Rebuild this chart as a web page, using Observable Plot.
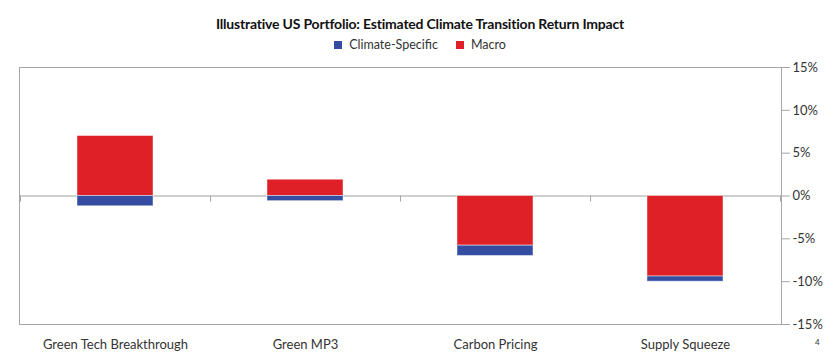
<!DOCTYPE html>
<html><head><meta charset="utf-8">
<script src="https://cdn.jsdelivr.net/npm/d3@7"></script>
<script src="https://cdn.jsdelivr.net/npm/@observablehq/plot@0.6"></script>
<style>
body{margin:0;background:#fff;font-family:Lato,sans-serif;}
#wrap{position:relative;width:840px;height:363px;overflow:hidden;}
#title{position:absolute;top:15px;left:0;width:840px;text-align:center;font-weight:bold;font-size:14px;color:#111;letter-spacing:-0.2px;white-space:nowrap;}
#legend{position:absolute;top:37px;left:0;width:840px;display:flex;justify-content:center;align-items:center;font-size:12.5px;color:#333;}
.item{display:flex;align-items:center;margin:0 9px;}
.sw{width:8px;height:8px;margin-right:7px;}
#chart{position:absolute;top:56px;left:0;}
#page{position:absolute;left:815px;top:337px;font-size:8px;color:#333;}
</style></head>
<body>
<div id="wrap">
  <div id="title">Illustrative US Portfolio: Estimated Climate Transition Return Impact</div>
  <div id="legend"></div>
  <div id="chart"></div>
  <div id="page">4</div>
</div>
<script>
const categories = ["Green Tech Breakthrough", "Green MP3", "Carbon Pricing", "Supply Squeeze"];
const macro = [7.0, 1.9, -5.8, -9.4];
const climateSpecific = [-1.2, -0.6, -1.2, -0.6];
const seriesNames = ["Climate-Specific", "Macro"];
const seriesColors = ["#344DA0", "#DF2027"];
const yTicks = [-15, -10, -5, 0, 5, 10, 15];

// Macro first so it stacks nearest zero
const rows = [];
categories.forEach((c, i) => rows.push({category: c, series: "Macro", value: macro[i]}));
categories.forEach((c, i) => rows.push({category: c, series: "Climate-Specific", value: climateSpecific[i]}));

const legend = document.getElementById("legend");
seriesNames.forEach((s, i) => {
  const it = document.createElement("div");
  it.className = "item";
  it.innerHTML = `<span class="sw" style="background:${seriesColors[i]}"></span><span>${s}</span>`;
  legend.appendChild(it);
});

const chart = Plot.plot({
  width: 840, height: 307,
  marginTop: 11, marginBottom: 39, marginLeft: 19, marginRight: 59,
  style: {fontFamily: "Lato, sans-serif", fontSize: "13px", color: "#333", background: "white"},
  x: {domain: categories, paddingInner: 0.6, paddingOuter: 0.3, label: null},
  y: {domain: [-15, 15], label: null},
  color: {domain: seriesNames, range: seriesColors},
  marks: [
    Plot.ruleY([0], {stroke: "#a0a0a0"}),
    Plot.barY(rows, {x: "category", y: "value", fill: "series", stroke: "white", strokeOpacity: 0.45, strokeWidth: 1}),
    Plot.frame({stroke: "#a6a6a6"}),
    Plot.axisY({anchor: "right", ticks: yTicks, tickFormat: d => d + "%", tickSize: 8, tickPadding: 3, stroke: "#a6a6a6"}),
    Plot.axisX({tickSize: 0, tickPadding: 15})
  ]
});

// category boundary ticks on the zero line
const xs = chart.scale("x"), ys = chart.scale("y");
const off = (xs.step - xs.bandwidth) / 2;
const bounds = categories.map(c => xs.apply(c) - off);
bounds.push(xs.apply(categories[categories.length - 1]) + xs.bandwidth + off);
const y0 = ys.apply(0);
d3.select(chart).append("g").attr("stroke", "#a6a6a6")
  .selectAll("line").data(bounds).join("line")
  .attr("x1", d => Math.round(d) + 0.5).attr("x2", d => Math.round(d) + 0.5)
  .attr("y1", y0).attr("y2", y0 + 6);

document.getElementById("chart").appendChild(chart);
</script>
</body></html>
